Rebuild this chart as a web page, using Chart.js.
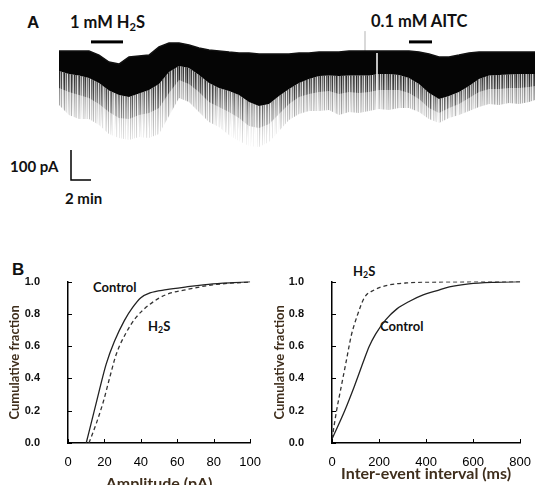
<!DOCTYPE html>
<html>
<head>
<meta charset="utf-8">
<script src="https://cdn.jsdelivr.net/npm/chart.js@4.4.1/dist/chart.umd.min.js"></script>
<style>
  body { margin: 0; width: 535px; height: 485px; overflow: hidden; background: #fff; position: relative; }
  canvas { position: absolute; }
  .lbl { position: absolute; font-family: Lato, sans-serif; font-weight: 700; color: #111; white-space: nowrap; line-height: 1; }
  .panel { font-family: "Liberation Sans", Arial, sans-serif; font-size: 17px; }
  .sub { position: relative; top: 0.28em; font-size: 0.68em; }
</style>
</head>
<body>
<div class="lbl panel" style="left:27px;top:14px">A</div>
<div class="lbl" style="left:70px;top:14px;font-size:16.5px">1 mM H<span class="sub">2</span>S</div>
<div class="lbl" style="left:371px;top:13px;font-size:16.5px">0.1 mM AITC</div>
<div class="lbl" style="left:10px;top:159px;font-size:15px">100 pA</div>
<div class="lbl" style="left:65px;top:191px;font-size:15px">2 min</div>

<div class="lbl panel" style="left:12px;top:261px">B</div>
<div class="lbl" style="left:93px;top:281px;font-size:13px">Control</div>
<div class="lbl" style="left:148px;top:320px;font-size:13px">H<span class="sub">2</span>S</div>
<div class="lbl" style="left:353px;top:265px;font-size:13px">H<span class="sub">2</span>S</div>
<div class="lbl" style="left:380px;top:320px;font-size:13px">Control</div>

<canvas id="trace" width="476" height="160" style="left:59px;top:30px"></canvas>
<canvas id="amp" width="265" height="240" style="left:0px;top:255px"></canvas>
<canvas id="iei" width="270" height="240" style="left:265px;top:255px"></canvas>

<script>
// ---- panel A: whole-cell current trace (minutes, pA relative to start baseline)
const traceTime = [0, 1, 2, 3, 4, 5, 6, 7, 8, 9, 10, 11, 12, 13, 14, 15, 16, 17, 18, 19, 20, 21, 22, 23,
  24, 25, 26, 27, 28, 29, 30, 31, 32, 33, 34, 35, 36, 37, 38, 39, 40, 41, 42, 43, 44, 45, 46, 47, 47.6];
// upper edge of the trace
const traceTop = [-3, -3, -3, -3, -17, -40, -47, -23, -20, -17, 10, 23, 23, 17, 7, 0, -3, -7, -10, -10, -13, -13, -13, -13,
  -10, -10, -7, -7, -7, -3, -3, -3, -3, -3, -3, -3, -7, -13, -23, -23, -17, -10, -7, -7, -7, -7, -7, -7, -7];
// lower edge of the dense (solid) band of events
const traceCore = [-70, -80, -85, -93, -110, -135, -150, -157, -145, -133, -113, -73, -53, -60, -83, -110, -127, -137, -150, -173, -187, -180, -153, -130,
  -110, -97, -87, -85, -87, -85, -85, -85, -80, -80, -83, -93, -113, -143, -163, -153, -140, -120, -97, -85, -83, -82, -80, -80, -80];
// where most event peaks end
const traceMid = [-127, -140, -150, -160, -180, -207, -227, -230, -217, -210, -193, -143, -100, -113, -140, -173, -190, -207, -227, -253, -260, -247, -213, -180,
  -157, -147, -140, -137, -147, -140, -143, -140, -133, -133, -133, -143, -163, -193, -210, -193, -180, -160, -140, -130, -130, -127, -127, -123, -120];
// deepest individual events
const traceTail = [-183, -217, -230, -230, -250, -280, -293, -300, -290, -293, -280, -220, -160, -173, -207, -240, -257, -283, -303, -320, -323, -307, -270, -233,
  -213, -203, -203, -200, -217, -207, -210, -203, -197, -200, -193, -193, -207, -230, -243, -227, -217, -203, -190, -180, -183, -177, -180, -173, -167];

const h2sApplied = [3.2, 6.4];     // min
const aitcApplied = [35.0, 37.3];  // min
const drugBarLevel = 27;           // pA
const scaleBarMin = 2, scaleBarPA = 100;
const scaleBarAt = [1.2, -433];    // corner of the L, (min, pA)
const breakAt = 31.8, breakSpan = [-10, -200];
const blipAt = 30.6, blipSpan = [-3, 63];

// ---- panel B: cumulative distributions
const ampControlX = [10, 14, 17.5, 21, 25.5, 31, 35.5, 40, 45, 54, 65, 79.5, 100];
const ampControlY = [0, 0.18, 0.34, 0.49, 0.63, 0.76, 0.84, 0.90, 0.93, 0.95, 0.967, 0.986, 1.0];
const ampH2sX = [11.5, 15.5, 19.5, 23, 26.5, 32, 37.5, 45, 54, 65, 79.5, 100];
const ampH2sY = [0, 0.12, 0.26, 0.41, 0.55, 0.685, 0.78, 0.86, 0.92, 0.95, 0.98, 0.998];

const ieiControlX = [0, 54, 96, 137.5, 158, 186, 228, 276, 332, 387.5, 443, 499, 582, 693, 800];
const ieiControlY = [0.025, 0.2, 0.355, 0.52, 0.598, 0.676, 0.763, 0.831, 0.88, 0.918, 0.942, 0.967, 0.986, 0.996, 1.0];
const ieiH2sX = [0, 19.4, 40, 61, 82, 110, 137.5, 179, 235, 318, 485, 800];
const ieiH2sY = [0.025, 0.2, 0.355, 0.51, 0.666, 0.80, 0.90, 0.948, 0.977, 0.992, 0.998, 1.0];

const yTicks = [0, 0.2, 0.4, 0.6, 0.8, 1.0];

// ---------------------------------------------------------------
const pts = (xs, ys) => xs.map((x, i) => ({ x: x, y: ys[i] }));

// streak texture for the event region (style only): per-column darkness and reach
const streakAlpha = [1, 0.35, 0.8, 0.15, 0.6, 0.95, 0.3, 0.7, 0.1, 0.85, 0.5, 0.25, 0.9, 0.6, 0.2, 1, 0.4, 0.75, 0.15, 0.55,
  0.9, 0.3, 0.65, 0.1, 0.8, 0.45, 1, 0.2, 0.6, 0.35, 0.85, 0.1, 0.7, 0.5, 0.95, 0.25, 0.6, 0.4, 0.9, 0.15, 0.75, 0.3, 1, 0.5, 0.2, 0.65, 0.4];
const streakReach = [120, 95, 135, 105, 88, 128, 112, 98, 140, 92, 118, 106, 132, 86, 124, 100, 138, 110, 94, 126,
  102, 116, 90, 134, 108, 122, 96, 130, 114, 87, 136, 104, 120, 99, 127, 91, 133, 111, 97, 125, 107];
function streaks(strength, fadeFrom, floor) {
  const c = document.createElement('canvas');
  c.width = 476; c.height = 160;
  const g = c.getContext('2d');
  for (let i = 0; i < c.width; i++) {
    const a = streakAlpha[i % streakAlpha.length];
    const reach = streakReach[i % streakReach.length];
    for (let y = 0; y < c.height; y++) {
      const f = Math.max(floor, Math.min(1, (reach - y) / (reach - fadeFrom)));
      if (f <= 0) continue;
      g.fillStyle = 'rgba(0,0,0,' + (a * strength * f).toFixed(3) + ')';
      g.fillRect(i, y, 1, 1);
    }
  }
  return g.createPattern(c, 'no-repeat');
}

const flat = { pointRadius: 0, borderWidth: 0, tension: 0 };

new Chart(document.getElementById('trace'), {
  type: 'line',
  data: {
    datasets: [
      { ...flat, data: pts(h2sApplied, [drugBarLevel, drugBarLevel]), borderColor: '#000', borderWidth: 3 },
      { ...flat, data: pts(aitcApplied, [drugBarLevel, drugBarLevel]), borderColor: '#000', borderWidth: 3 },
      { ...flat, data: [{ x: scaleBarAt[0], y: scaleBarAt[1] + scaleBarPA }, { x: scaleBarAt[0], y: scaleBarAt[1] },
                        { x: scaleBarAt[0] + scaleBarMin, y: scaleBarAt[1] }], borderColor: '#000', borderWidth: 1.5 },
      { ...flat, data: pts([breakAt, breakAt], breakSpan), borderColor: '#fff', borderWidth: 1.5 },
      { ...flat, data: pts(traceTime, traceTop), borderColor: '#111', borderWidth: 1.5, fill: 8, backgroundColor: '#050505' },
      { ...flat, data: pts([blipAt, blipAt], blipSpan), borderColor: 'rgba(0,0,0,0.3)', borderWidth: 1 },
      { ...flat, data: pts(traceTime, traceMid), fill: 8, backgroundColor: streaks(0.75, 35, 0.3) },
      { ...flat, data: pts(traceTime, traceTail), fill: 8, backgroundColor: streaks(0.62, 35, 0) },
      { ...flat, data: pts(traceTime, traceCore) }
    ]
  },
  options: {
    responsive: false, animation: false, events: [],
    layout: { padding: 0 },
    plugins: { legend: { display: false }, tooltip: { enabled: false } },
    scales: {
      x: { type: 'linear', display: false, min: 0, max: 47.6 },
      y: { type: 'linear', display: false, min: -466.67, max: 66.67 }
    }
  }
});

// small inward tick marks, as in the original figure
const innerTicks = {
  id: 'innerTicks',
  afterDraw(chart) {
    const { ctx, chartArea, scales: { x, y } } = chart;
    ctx.save();
    ctx.strokeStyle = '#000';
    ctx.lineWidth = 1;
    ctx.beginPath();
    x.ticks.forEach(t => {
      const px = Math.round(x.getPixelForValue(t.value)) + 0.5;
      ctx.moveTo(px, chartArea.bottom); ctx.lineTo(px, chartArea.bottom - 4);
    });
    y.ticks.forEach(t => {
      const py = Math.round(y.getPixelForValue(t.value)) + 0.5;
      ctx.moveTo(chartArea.left, py); ctx.lineTo(chartArea.left + 4, py);
    });
    ctx.stroke();
    ctx.restore();
  }
};

const titleColor = '#3f2e1c';

function cdfChart(id, control, h2s, xMax, xStep, xTitle, opts) {
  return new Chart(document.getElementById(id), {
    type: 'line',
    data: {
      datasets: [
        { data: control, borderColor: '#222', borderWidth: 1.3, pointRadius: 0, cubicInterpolationMode: 'monotone' },
        { data: h2s, borderColor: '#333', borderWidth: 1.3, borderDash: [4, 3], pointRadius: 0, cubicInterpolationMode: 'monotone' }
      ]
    },
    options: {
      responsive: false, animation: false, events: [],
      layout: { padding: { top: 16, right: opts.right, left: 0, bottom: 0 } },
      plugins: { legend: { display: false }, tooltip: { enabled: false } },
      scales: {
        x: {
          type: 'linear', min: 0, max: xMax,
          grid: { display: false },
          border: { display: true, color: '#000', width: 1.5 },
          ticks: { stepSize: xStep, padding: 4, color: '#000',
                   font: { family: '"Liberation Sans", Arial, sans-serif', size: 13 } },
          title: { display: true, text: xTitle, color: titleColor,
                   font: { family: 'Lato, sans-serif', size: 16, weight: 'bold' },
                   padding: { top: 0, bottom: opts.titleBottom } },
          afterFit: s => { s.height = 52; }
        },
        y: {
          type: 'linear', min: 0, max: 1,
          grid: { display: false },
          border: { display: true, color: '#000', width: 1.5 },
          afterBuildTicks: s => { s.ticks = yTicks.map(v => ({ value: v })); },
          ticks: { padding: 20, color: '#111', callback: v => v.toFixed(1),
                   font: { family: '"Liberation Sans", Arial, sans-serif', size: 11, weight: 'bold' } },
          title: { display: true, text: 'Cumulative fraction', color: titleColor,
                   font: { family: 'Lato, sans-serif', size: 13, weight: 'bold' },
                   padding: { top: 7, bottom: 0 } },
          afterFit: s => { s.width = opts.left; }
        }
      }
    },
    plugins: [innerTicks]
  });
}

cdfChart('amp', pts(ampControlX, ampControlY), pts(ampH2sX, ampH2sY), 100, 20, 'Amplitude (pA)',
  { left: 68, right: 14, titleBottom: 2 });
cdfChart('iei', pts(ieiControlX, ieiControlY), pts(ieiH2sX, ieiH2sY), 800, 200, 'Inter-event interval (ms)',
  { left: 67, right: 11, titleBottom: 12 });
</script>
</body>
</html>
